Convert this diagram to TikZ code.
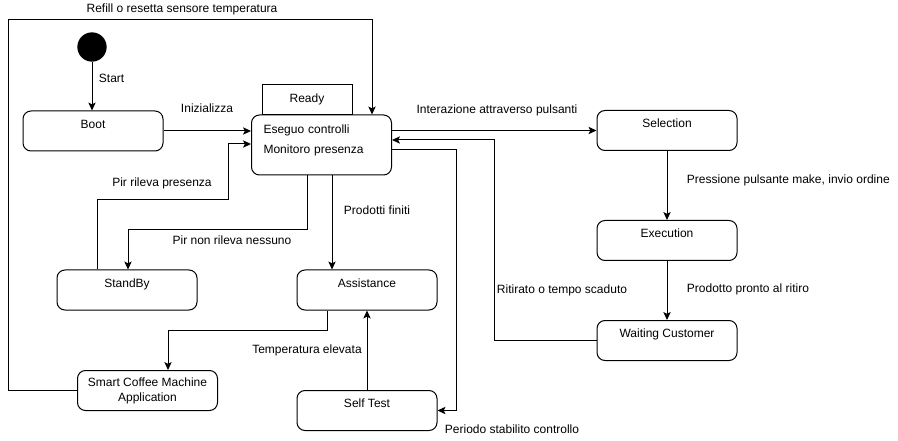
\documentclass[tikz,border=0pt]{standalone}
\usepackage{fontspec}
\setmainfont{Liberation Sans}
\usetikzlibrary{arrows.meta}

\begin{document}
\begin{tikzpicture}[x=0.75pt, y=-0.75pt, line width=0.75pt,
  every node/.style={font=\fontsize{9}{11.25}\selectfont},
  state/.style={draw, rounded corners=6pt, minimum width=105pt, inner sep=0pt, text height=13pt, text depth=17pt, align=center},
  arr/.style={-{Stealth[length=6pt,width=5.5pt,inset=1.4pt]}}]
\useasboundingbox (0,0) rectangle (898,441);

% states
\node[fill, circle, minimum size=22pt, inner sep=0pt] (init) at (92,47) {};
\node[state] (boot) at (93,131) {Boot};
\node[state, minimum height=45pt, text width=87pt, inner xsep=9pt, align=left,
  text height=14pt, text depth=31pt, font=\fontsize{9}{15}\selectfont] (main) at (321.5,145) {Eseguo controlli\\Monitoro presenza};
\node[draw, minimum width=67.5pt, minimum height=22.5pt, inner sep=0pt, anchor=south] (ready) at (307,115) {Ready};
\node[state] (standby) at (127,290) {StandBy};
\node[state] (assist) at (367,290) {Assistance};
\node[state, text height=23pt, text depth=7pt] (app) at (147.5,390.5) {Smart Coffee Machine\\Application};
\node[state] (test) at (367,410.5) {Self Test};
\node[state] (sel) at (667,130.5) {Selection};
\node[state] (exec) at (667,240.5) {Execution};
\node[state] (wait) at (667,340.5) {Waiting Customer};

% transitions
\draw[arr] (init) -- (init.south |- boot.north);
\draw[arr] (boot.east) -- (main.west |- boot.east);
\draw[arr] (app.west) -| (8,20) -| (372,0 |- main.north);
\draw[arr] (main.east |- sel.west) -- (sel.west);
\draw[arr] (wait.west) -| (494,140) -- (main.east |- 0,140);
\draw[arr] (main.east |- 0,150) -| (456,0 |- test.east) -- (test.east);
\draw[arr] (97,0 |- standby.north) -- (97,200) -| (228,144) -- (main.west |- 0,144);
\draw[arr] (307,0 |- main.south) -- (307,230) -| (128,0 |- standby.north);
\draw[arr] (332,0 |- main.south) -- (332,0 |- assist.north);
\draw[arr] (327,0 |- assist.south) |- (168,330) -- (168,0 |- app.north);
\draw[arr] (test.north) -- (assist.south);
\draw[arr] (sel.south) -- (exec.north);
\draw[arr] (exec.south) -- (wait.north);

% transition labels
\node[anchor=west] (lstart) at (94,78) {Start};
\node (linit) at (207,108) {Inizializza};
\node (lrefill) at (182,9) {Refill o resetta sensore temperatura};
\node (linter) at (497,110) {Interazione attraverso pulsanti};
\node (lpir) at (162,183) {Pir rileva presenza};
\node (lnopir) at (232,240) {Pir non rileva nessuno};
\node (lfiniti) at (377,210) {Prodotti finiti};
\node (ltemp) at (307,350) {Temperatura elevata};
\node (lperiodo) at (512,429) {Periodo stabilito controllo};
\node (lritirato) at (562,290) {Ritirato o tempo scaduto};
\node[anchor=west] (lmake) at (682,180) {Pressione pulsante make, invio ordine};
\node[anchor=west] (lpronto) at (682,289) {Prodotto pronto al ritiro};
\end{tikzpicture}
\end{document}
